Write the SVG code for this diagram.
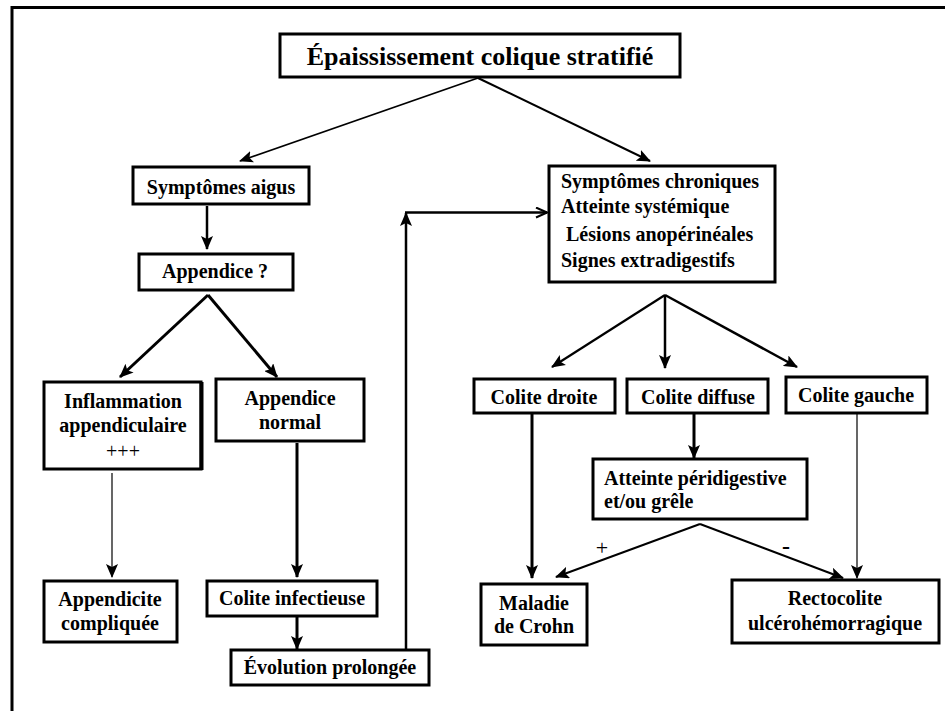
<svg xmlns="http://www.w3.org/2000/svg" width="945" height="711" viewBox="0 0 945 711">
<style>
.box{fill:#fff;stroke:#000;stroke-width:3}
.t{font-family:"Liberation Serif","Times New Roman",serif;font-weight:bold;font-size:20px;fill:#000}
.c{text-anchor:middle}
.ln{stroke:#000;fill:none}
</style>
<defs>
<marker id="ah" markerUnits="userSpaceOnUse" markerWidth="14" markerHeight="12" viewBox="0 0 14 12" refX="13" refY="6" orient="auto">
<path d="M0,0 L14,6 L0,12 L3,6 Z" fill="#000"/>
</marker>
<marker id="open" markerUnits="userSpaceOnUse" markerWidth="14" markerHeight="12" viewBox="0 0 14 12" refX="13" refY="6" orient="auto">
<path d="M2,1 L13,6 L2,11" fill="none" stroke="#000" stroke-width="2"/>
</marker>
</defs>
<rect width="945" height="711" fill="#fff"/>
<path d="M12,711 L12,7.5 L945,7.5" fill="none" stroke="#000" stroke-width="3"/>

<g id="connectors">
<line class="ln" x1="478" y1="78" x2="240" y2="161" stroke-width="1.8" marker-end="url(#ah)"/>
<line class="ln" x1="478" y1="78" x2="650" y2="161" stroke-width="2" marker-end="url(#ah)"/>
<line class="ln" x1="207" y1="206" x2="207" y2="249" stroke-width="2.5" marker-end="url(#ah)"/>
<line class="ln" x1="208" y1="295" x2="120" y2="377" stroke-width="3" marker-end="url(#ah)"/>
<line class="ln" x1="208" y1="295" x2="277" y2="377" stroke-width="3" marker-end="url(#ah)"/>
<line class="ln" x1="112" y1="473" x2="112" y2="577" stroke-width="1.2" marker-end="url(#ah)"/>
<line class="ln" x1="297" y1="443" x2="297" y2="577" stroke-width="3" marker-end="url(#ah)"/>
<line class="ln" x1="297" y1="614" x2="297" y2="649" stroke-width="3" marker-end="url(#ah)"/>
<line class="ln" x1="406" y1="650" x2="406" y2="213" stroke-width="2.5" marker-end="url(#ah)"/>
<line class="ln" x1="405" y1="212.5" x2="547" y2="212.5" stroke-width="2.5" marker-end="url(#open)"/>
<line class="ln" x1="665" y1="295" x2="552" y2="367" stroke-width="2.2" marker-end="url(#ah)"/>
<line class="ln" x1="665" y1="295" x2="665" y2="368" stroke-width="2.5" marker-end="url(#ah)"/>
<line class="ln" x1="665" y1="295" x2="797" y2="367" stroke-width="2.5" marker-end="url(#ah)"/>
<line class="ln" x1="532" y1="414" x2="532" y2="578" stroke-width="3" marker-end="url(#ah)"/>
<line class="ln" x1="694" y1="414" x2="694" y2="458" stroke-width="3" marker-end="url(#ah)"/>
<line class="ln" x1="857" y1="414" x2="857" y2="578" stroke-width="1.2" marker-end="url(#ah)"/>
<line class="ln" x1="700" y1="524" x2="556" y2="577" stroke-width="2" marker-end="url(#ah)"/>
<line class="ln" x1="700" y1="524" x2="843" y2="578" stroke-width="2" marker-end="url(#ah)"/>
<text x="602" y="555" style="font-family:'Liberation Serif',serif;font-size:22px;fill:#000" text-anchor="middle">+</text>
<text x="786" y="554" style="font-family:'Liberation Serif',serif;font-size:24px;font-weight:bold;fill:#000" text-anchor="middle">-</text>
</g>

<g id="n-title">
<rect class="box" x="280" y="34" width="400" height="43"/>
<text class="t c" x="480" y="65" style="font-size:26px">Épaississement colique stratifié</text>
</g>
<g id="n-aigus">
<rect class="box" x="133" y="167" width="176" height="37"/>
<text class="t c" x="221" y="194">Symptômes aigus</text>
</g>
<g id="n-appendice">
<rect class="box" x="139" y="254" width="154" height="36"/>
<text class="t c" x="215" y="278">Appendice ?</text>
</g>
<g id="n-inflammation">
<rect class="box" x="44" y="382" width="157" height="87"/>
<line x1="201.5" y1="382" x2="201.5" y2="470" stroke="#000" stroke-width="4"/>
<text class="t c" x="123" y="408">Inflammation</text>
<text class="t c" x="123" y="432">appendiculaire</text>
<text x="123" y="458" style="font-family:'Liberation Serif',serif;font-size:20px;fill:#000" text-anchor="middle">+++</text>
</g>
<g id="n-normal">
<rect class="box" x="216" y="379" width="148" height="62"/>
<text class="t c" x="290" y="405">Appendice</text>
<text class="t c" x="290" y="429">normal</text>
</g>
<g id="n-compliquee">
<rect class="box" x="44" y="581" width="133" height="61"/>
<text class="t c" x="110" y="606">Appendicite</text>
<text class="t c" x="110" y="630">compliquée</text>
</g>
<g id="n-infectieuse">
<rect class="box" x="207" y="581" width="170" height="35"/>
<text class="t c" x="292" y="605">Colite infectieuse</text>
</g>
<g id="n-evolution">
<rect class="box" x="231" y="650" width="198" height="35"/>
<text class="t c" x="330" y="674">Évolution prolongée</text>
</g>
<g id="n-chroniques">
<rect class="box" x="549" y="166" width="226" height="116"/>
<text class="t" x="561" y="188">Symptômes chroniques</text>
<text class="t" x="561" y="213">Atteinte systémique</text>
<text class="t" x="566" y="241">Lésions anopérinéales</text>
<text class="t" x="561" y="267">Signes extradigestifs</text>
</g>
<g id="n-droite">
<rect class="box" x="474" y="379" width="141" height="34"/>
<text class="t c" x="544" y="404">Colite droite</text>
</g>
<g id="n-diffuse">
<rect class="box" x="627" y="379" width="141" height="34"/>
<text class="t c" x="698" y="404">Colite diffuse</text>
</g>
<g id="n-gauche">
<rect class="box" x="786" y="377" width="141" height="36"/>
<text class="t c" x="856" y="402">Colite gauche</text>
</g>
<g id="n-atteinte">
<rect class="box" x="593" y="459" width="214" height="60"/>
<text class="t" x="604" y="485">Atteinte péridigestive</text>
<text class="t" x="604" y="508">et/ou grêle</text>
</g>
<g id="n-crohn">
<rect class="box" x="481" y="584" width="106" height="61"/>
<text class="t c" x="534" y="610">Maladie</text>
<text class="t c" x="534" y="633">de Crohn</text>
</g>
<g id="n-rch">
<rect class="box" x="732" y="580" width="207" height="63"/>
<text class="t c" x="835" y="605">Rectocolite</text>
<text class="t c" x="835" y="630">ulcérohémorragique</text>
</g>
</svg>
